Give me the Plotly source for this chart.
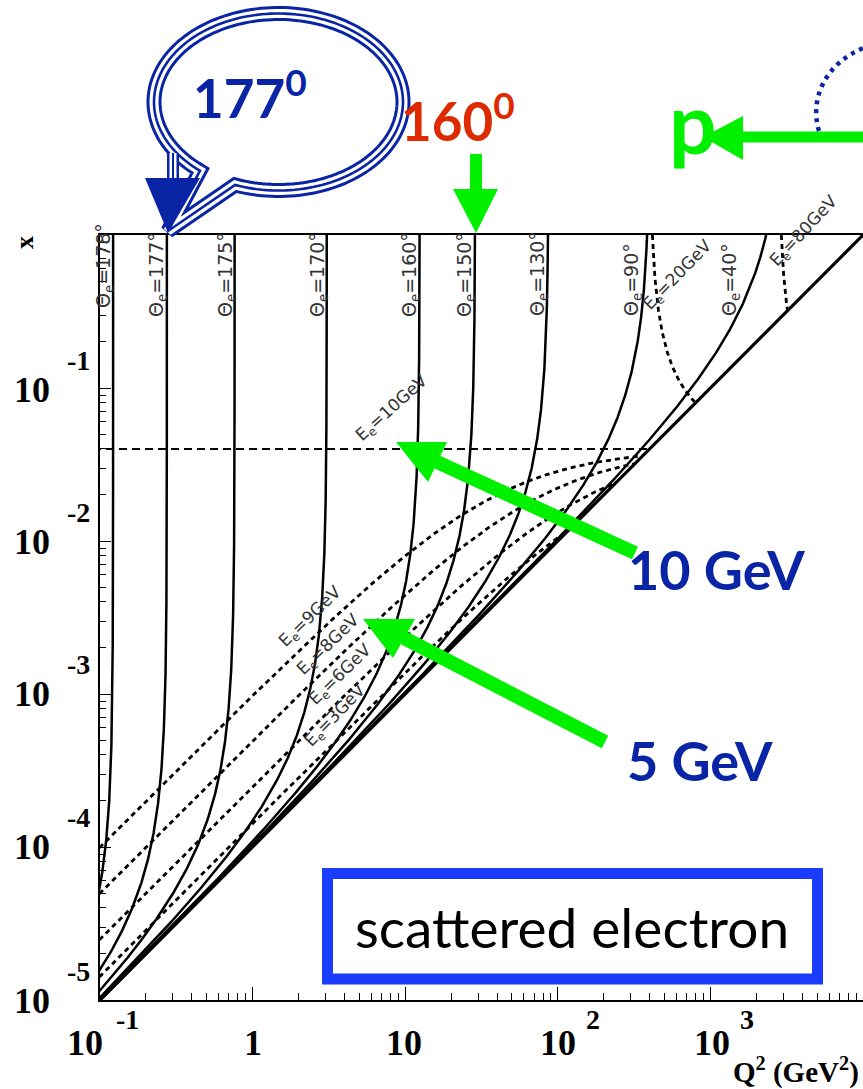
import numpy as np
import plotly.graph_objects as go

# ---- beam setup and curve parameters -------------------------------------
E_BEAM = 10.0        # electron beam energy [GeV]
P_BEAM = 250.0       # proton beam energy [GeV]
theta_deg = [178, 177, 175, 170, 160, 150, 130, 90, 40]   # electron scattering angles
e_scat = [3, 6, 8, 9, 10, 20, 80]                          # scattered electron energies [GeV]

# axis decades (log10)
q2_decades = [-1, 0, 1, 2, 3]
x_decades = [-5, -4, -3, -2, -1]

S = 4.0 * E_BEAM * P_BEAM

# ---- page geometry ---------------------------------------------------------
W_PAGE, H_PAGE = 863, 1089
L, T = 100, 235
PW, PH = 763, 765


def px(xp):
    return (xp - L) / PW


def py(yp):
    return (T + PH - yp) / PH


# ---- DIS kinematics --------------------------------------------------------
def theta_curve(th):
    c = np.cos(np.radians(th) / 2.0) ** 2
    q2max = 4.0 * E_BEAM ** 2 * c / (1.0 - c)
    q2_top = S / (1.0 + S / q2max)           # where x reaches 1
    y_top = q2_top / S
    a = np.logspace(np.log10(0.09), np.log10(0.5 * q2max), 500)
    b = q2max * (1.0 - np.logspace(np.log10(0.5), np.log10(y_top), 500))
    q2 = np.unique(np.concatenate([a, b]))
    y = 1.0 - q2 / q2max
    return q2, q2 / (S * y)


def energy_curve(E):
    if E > E_BEAM:
        c0 = S * (1.0 - E / E_BEAM) / (4.0 * E_BEAM * E - S * E / E_BEAM)
        c = np.linspace(c0, 1.0, 600)
    else:
        c0 = 0.09 / (4.0 * E_BEAM * E)
        c = np.logspace(np.log10(c0), 0.0, 600)
    q2 = 4.0 * E_BEAM * E * c
    y = 1.0 - E / E_BEAM * (1.0 - c)
    return q2, q2 / (S * y)


fig = go.Figure()

for th in theta_deg:
    q2, xb = theta_curve(th)
    fig.add_trace(go.Scatter(x=q2, y=xb, mode="lines",
                             line=dict(color="black", width=2.5)))

for E in e_scat:
    q2, xb = energy_curve(E)
    if E == E_BEAM:
        style = dict(color="black", width=2.0, dash="8px,5px")
    else:
        style = dict(color="black", width=2.8, dash="5px,4px")
    fig.add_trace(go.Scatter(x=q2, y=xb, mode="lines", line=style))

# kinematic limit y = 1
q2_lim = np.array([0.1, S])
fig.add_trace(go.Scatter(x=q2_lim, y=q2_lim / S, mode="lines",
                         line=dict(color="black", width=3.2)))

# ---- axes ------------------------------------------------------------------
minor_q2 = [m * 10.0 ** d for d in range(-1, 4) for m in range(2, 10)]
minor_x = [m * 10.0 ** d for d in range(-5, 0) for m in range(2, 10)]

fig.update_xaxes(type="log", range=[-1, 4], showgrid=False, zeroline=False,
                 showline=True, linecolor="black", linewidth=2, mirror=True,
                 ticks="inside", ticklen=13, tickwidth=1.3, tickcolor="black",
                 tickvals=[10.0 ** d for d in q2_decades], showticklabels=False,
                 minor=dict(tickvals=minor_q2, ticks="inside", ticklen=7,
                            tickwidth=1.2, tickcolor="black", showgrid=False))
fig.update_yaxes(type="log", range=[-5, 0], showgrid=False, zeroline=False,
                 showline=True, linecolor="black", linewidth=2,
                 ticks="inside", ticklen=11, tickwidth=1.3, tickcolor="black",
                 tickvals=[10.0 ** d for d in x_decades], showticklabels=False,
                 minor=dict(tickvals=minor_x, ticks="inside", ticklen=6,
                            tickwidth=1.2, tickcolor="black", showgrid=False))

ann = []
SERIF = "Liberation Serif"


def text(x, y, s, size, color="black", family=SERIF, angle=0, xanchor="center"):
    ann.append(dict(xref="paper", yref="paper", x=px(x), y=py(y), text=s,
                    showarrow=False, textangle=angle, xanchor=xanchor,
                    yanchor="middle", font=dict(size=size, color=color, family=family)))


# tick labels, y axis
y_lab_pos = {-1: 390, -2: 542, -3: 694, -4: 847, -5: 1001}
for d in x_decades:
    text(32, y_lab_pos[d], "<b>10</b>", 36)
    text(78, y_lab_pos[d] - 30, "<b>%d</b>" % d, 28)

# tick labels, x axis
x_lab_pos = {-1: 85, 0: 253, 1: 404, 2: 558, 3: 712}
for d in q2_decades:
    if d == 0:
        text(x_lab_pos[d], 1043, "<b>1</b>", 36)
    else:
        text(x_lab_pos[d], 1043, "<b>10</b>", 36)
    if d < 0:
        text(x_lab_pos[d] + 42, 1020, "<b>%d</b>" % d, 28)
    elif d >= 2:
        text(x_lab_pos[d] + 35, 1020, "<b>%d</b>" % d, 28)

# axis titles
text(25, 243, "<b>x</b>", 26, angle=-90)
text(861, 1070, "<b>Q<sup>2</sup> (GeV<sup>2</sup>)</b>", 29, xanchor="right")

# curve labels
LAB = "DejaVu Sans"
theta_lab = {178: (104, 266), 177: (157, 275), 175: (226, 275), 170: (318, 275),
             160: (410, 275), 150: (465, 275), 130: (538, 274), 90: (632, 280),
             40: (730, 280)}
for th in theta_deg:
    xx, yy = theta_lab[th]
    text(xx, yy, "Θ<sub>e</sub>=%d°" % th, 19, color="#333333", family=LAB, angle=-90)

e_lab = {10: (392, 408, -42), 20: (678, 275, -46), 80: (804, 231, -47),
         9: (310, 617, -44), 8: (328, 645, -44), 6: (340, 675, -44), 3: (335, 716, -46)}
for E in e_scat:
    xx, yy, ang = e_lab[E]
    text(xx, yy, "E<sub>e</sub>=%dGeV" % E, 17, color="#333333", family=LAB, angle=ang)

# ---- overlay decorations ----------------------------------------------------
BLUE_TXT = "#0a24a6"
GREEN = "#00f000"
shapes = []


def poly(points, fill, line_color=None, width=0):
    p = "M " + " L ".join("%.5f %.5f" % (px(a), py(b)) for a, b in points) + " Z"
    shapes.append(dict(type="path", xref="paper", yref="paper", path=p,
                       fillcolor=fill, line=dict(color=line_color or fill, width=width),
                       layer="above"))


def seg(p0, p1, color, width):
    shapes.append(dict(type="line", xref="paper", yref="paper",
                       x0=px(p0[0]), y0=py(p0[1]), x1=px(p1[0]), y1=py(p1[1]),
                       line=dict(color=color, width=width), layer="above"))


# speech bubble with triple outline
cx, cy, rx, ry = 278.5, 102.0, 124.5, 88.5
t = np.radians(np.linspace(129.1, 470.4, 160))
bubble = [(cx + rx * np.cos(a), cy + ry * np.sin(a)) for a in t] + [(168, 231)]
bpath = "M " + " L ".join("%.5f %.5f" % (px(a), py(b)) for a, b in bubble) + " Z"
for col, wdt, fill in [(BLUE_TXT, 15, "white"), ("white", 9, "rgba(0,0,0,0)"),
                       (BLUE_TXT, 2.6, "rgba(0,0,0,0)")]:
    shapes.append(dict(type="path", xref="paper", yref="paper", path=bpath,
                       fillcolor=fill, line=dict(color=col, width=wdt), layer="above"))
# arrow inside the bubble tail
for col, wdt in [(BLUE_TXT, 12), ("white", 7), (BLUE_TXT, 2)]:
    seg((173, 153), (173, 180), col, wdt)
poly([(145, 178), (200, 178), (168, 233)], BLUE_TXT)

# green arrow down onto 160 deg
seg((476, 154), (476, 190), GREEN, 12)
poly([(453, 189), (498, 189), (476, 233)], GREEN)

# green arrow towards "p"
seg((742, 137), (866, 137), GREEN, 11)
poly([(703, 137), (743, 116), (743, 160)], GREEN)

# arrows to the 10 GeV and 5 GeV lines
seg((437, 462), (635, 553), GREEN, 14)
poly([(396, 442), (447, 442), (428, 482)], GREEN)
seg((404, 638), (605, 742), GREEN, 14)
poly([(363, 619), (415, 619), (393, 658)], GREEN)

# dotted arc at top right
arc = "M %.5f %.5f C %.5f %.5f, %.5f %.5f, %.5f %.5f" % (
    px(819), py(131), px(809), py(98), px(826), py(62), px(866), py(47))
shapes.append(dict(type="path", xref="paper", yref="paper", path=arc,
                   line=dict(color=BLUE_TXT, width=4.5, dash="4px,5px"), layer="above"))

# label box
shapes.append(dict(type="rect", xref="paper", yref="paper",
                   x0=px(327.5), x1=px(817.5), y0=py(979), y1=py(873.5),
                   fillcolor="white", line=dict(color="#1a3cff", width=11), layer="above"))

FUN = "Lato"
text(250, 94, "<b>177<sup>0</sup></b>", 53, color=BLUE_TXT, family=FUN)
text(458, 117, "<b>160<sup>0</sup></b>", 53, color="#dd2a00", family=FUN)
text(693, 121, "<b>p</b>", 84, color=GREEN, family=FUN)
text(716, 569, "<b>10 GeV</b>", 54, color=BLUE_TXT, family=FUN)
text(700, 760, "<b>5 GeV</b>", 54, color=BLUE_TXT, family=FUN)
text(572, 927, "scattered electron", 55, color="black", family=FUN)

fig.update_layout(width=W_PAGE, height=H_PAGE,
                  margin=dict(l=L, r=W_PAGE - L - PW, t=T, b=H_PAGE - T - PH),
                  paper_bgcolor="white", plot_bgcolor="white",
                  showlegend=False, hovermode=False,
                  shapes=shapes, annotations=ann)

fig.write_html("out.html")
